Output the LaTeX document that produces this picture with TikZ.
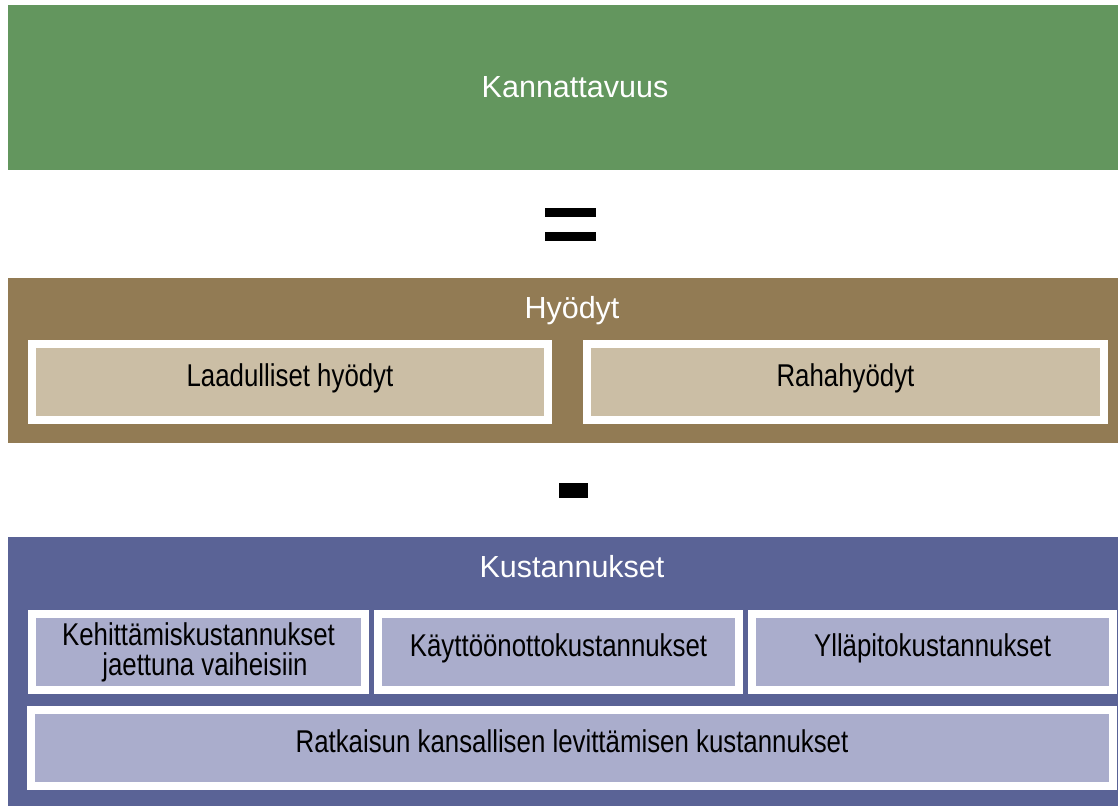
\documentclass[tikz,border=0pt]{standalone}
\usepackage{fontspec}
\setmainfont{Liberation Sans}
\newfontfamily\narrowfont[FakeStretch=0.82]{Liberation Sans}
\usetikzlibrary{positioning}

\definecolor{kannvihrea}{HTML}{63965E}
\definecolor{hyotyruskea}{HTML}{927B54}
\definecolor{hyotybeige}{HTML}{CBBEA5}
\definecolor{kustsininen}{HTML}{5A6396}
\definecolor{kustvaalea}{HTML}{AAADCC}

\tikzset{
  band/.style={fill=#1, anchor=north west, inner sep=0pt, minimum width=1110pt},
  title/.style={text=white, anchor=base, font=\fontsize{30.5}{36}\selectfont},
  cell/.style={fill=#1, draw=white, line width=8pt, inner sep=0pt, minimum height=76pt,
    text height=22pt, text depth=14pt, align=center, font=\narrowfont\fontsize{31.5}{30}\selectfont},
  sign/.style={fill=black},
}

\begin{document}
\begin{tikzpicture}[x=1pt,y=-1pt]
  \useasboundingbox (0,0) rectangle (1118,806);

  %% kannattavuus
  \node[band=kannvihrea, minimum height=165pt] (kannattavuus) at (8,5) {};
  \node[title] (kannotsikko) at (575,97) {Kannattavuus};

  %% =
  \fill[sign] (545,208) rectangle (596,217);
  \fill[sign] (545,232) rectangle (596,241);

  %% hyodyt
  \node[band=hyotyruskea, minimum height=165pt] (hyodyt) at (8,278) {};
  \node[title] (hyodytotsikko) at (572,318) {Hyödyt};
  \node[cell=hyotybeige, minimum width=516pt] (laadulliset) at (290,382) {Laadulliset hyödyt};
  \node[cell=hyotybeige, minimum width=517pt, right=31pt of laadulliset] (rahahyodyt) {Rahahyödyt};

  %% -
  \fill[sign] (559,483) rectangle (588,498);

  %% kustannukset
  \node[band=kustsininen, minimum height=269pt] (kustannukset) at (8,537) {};
  \node[title] (kustotsikko) at (572,577) {Kustannukset};
  \node[cell=kustvaalea, minimum width=333pt, text height={}, text depth={}] (kehittamis) at (198.5,652)
    {Kehittämiskustannukset\\\hspace*{13pt}jaettuna vaiheisiin};
  \node[cell=kustvaalea, minimum width=361pt, right=5pt of kehittamis] (kayttoonotto) {Käyttöönottokustannukset};
  \node[cell=kustvaalea, minimum width=361pt, right=5pt of kayttoonotto] (yllapito) {Ylläpitokustannukset};
  \node[cell=kustvaalea, minimum width=1082pt] (levittaminen) at (572,748)
    {Ratkaisun kansallisen levittämisen kustannukset};
\end{tikzpicture}
\end{document}
